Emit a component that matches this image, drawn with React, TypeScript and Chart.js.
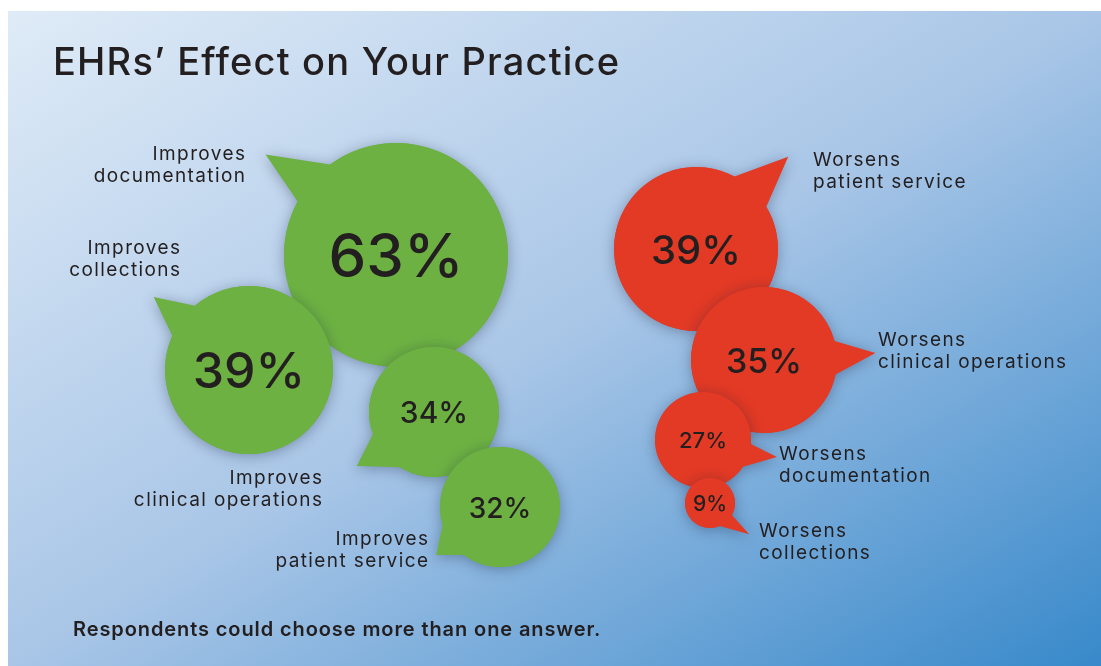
import React, { useEffect, useRef } from "react";
import { Chart, registerables } from "chart.js";

Chart.register(...registerables);

// ---------- data ----------
const TITLE = "EHRs’ Effect on Your Practice";
const FOOTNOTE = "Respondents could choose more than one answer.";

const improveLabels = [
  "Improves\ndocumentation",
  "Improves\ncollections",
  "Improves\nclinical operations",
  "Improves\npatient service",
];
const improveValues = [63, 39, 34, 32];

const worsenLabels = [
  "Worsens\npatient service",
  "Worsens\nclinical operations",
  "Worsens\ndocumentation",
  "Worsens\ncollections",
];
const worsenValues = [39, 35, 27, 9];

// ---------- layout (bubble centres in chart units, radii in px) ----------
const improveX = [396, 249, 434, 500];
const improveY = [255, 370, 412, 507];
const improveRadius = [112, 84, 65, 60];
const improveFont = [60, 50, 30, 28];

const worsenX = [696, 764, 703, 710];
const worsenY = [249, 360, 440, 503];
const worsenRadius = [82, 73, 48, 25];
const worsenFont = [40, 34, 22, 21];

// tail: tip angle (deg), tip distance (x radius), base angles a1 < a2 (deg)
const improveTails = [
  [217.6, 1.47, 208.6, 234],
  [217.5, 1.43, 204, 230],
  [145, 1.45, 121.7, 160],
  [143, 1.33, 127, 163],
];
const worsenTails = [
  [315, 1.59, 298, 329],
  [-3.6, 1.53, -15, 11.5],
  [13, 1.58, 4.7, 33.7],
  [38.5, 2.0, 29, 67],
];

// label anchors (first line centre) and alignment
const improveLabelX = [245, 180, 322, 428];
const improveLabelY = [154, 248, 478, 539];
const worsenLabelX = [813, 878, 779, 759];
const worsenLabelY = [160, 340, 454, 531];

const GREEN = "#6db143";
const RED = "#e23a25";
const TEXT = "#231f20";
const FONT = "Inter, 'Open Sans', sans-serif";
const LABEL_SPACING = 1.4;

const W = 1101;
const H = 666;

function buildDatasets() {
  const out: any[] = [];
  const groups = [
    { values: improveValues, labels: improveLabels, xs: improveX, ys: improveY, rs: improveRadius, fonts: improveFont, tails: improveTails, lx: improveLabelX, ly: improveLabelY, color: GREEN, align: "right" },
    { values: worsenValues, labels: worsenLabels, xs: worsenX, ys: worsenY, rs: worsenRadius, fonts: worsenFont, tails: worsenTails, lx: worsenLabelX, ly: worsenLabelY, color: RED, align: "left" },
  ];
  groups.forEach((g) => {
    g.values.forEach((v, i) => {
      out.push({
        label: g.labels[i].replace("\n", " "),
        data: [{ x: g.xs[i], y: g.ys[i], r: g.rs[i] }],
        backgroundColor: g.color,
        hoverBackgroundColor: g.color,
        borderWidth: 0,
        hoverBorderWidth: 0,
        value: v,
        valueFont: g.fonts[i],
        tail: g.tails[i],
        textLines: g.labels[i].split("\n"),
        textX: g.lx[i],
        textY: g.ly[i],
        textAlign: g.align,
      });
    });
  });
  const n = out.length;
  out.forEach((d, i) => (d.order = n - i));
  return out;
}

const rad = (d: number) => (d * Math.PI) / 180;

const speechPlugin = {
  id: "speech",
  beforeDraw(chart: any) {
    const ctx = chart.ctx;
    ctx.save();
    ctx.fillStyle = "#ffffff";
    ctx.fillRect(0, 0, W, H);
    const x0 = 8, y0 = 11;
    const g = ctx.createLinearGradient(x0, y0, 586, 975);
    g.addColorStop(0, "#dfebf7");
    g.addColorStop(0.5, "#a9c6e7");
    g.addColorStop(1, "#3889ca");
    ctx.fillStyle = g;
    ctx.fillRect(x0, y0, W - x0, H - y0);
    // title
    ctx.fillStyle = TEXT;
    ctx.font = `500 38px ${FONT}`;
    ctx.letterSpacing = "1.2px";
    ctx.textAlign = "left";
    ctx.textBaseline = "alphabetic";
    ctx.fillText(TITLE, 53, 75);
    // footnote
    ctx.font = `600 20px ${FONT}`;
    ctx.letterSpacing = "0.9px";
    ctx.fillText(FOOTNOTE, 73, 636);
    ctx.restore();
  },
  beforeDatasetDraw(chart: any, args: any) {
    const ds = chart.data.datasets[args.index];
    const el = args.meta.data[0];
    if (!el) return;
    const { x, y } = el;
    const r = el.options.radius;
    const [tipA, tipD, a1, a2] = ds.tail;
    const ctx = chart.ctx;
    ctx.save();
    ctx.shadowColor = "rgba(20,30,60,0.35)";
    ctx.shadowBlur = 14;
    ctx.shadowOffsetX = 0;
    ctx.shadowOffsetY = 2;
    ctx.fillStyle = ds.backgroundColor;
    ctx.beginPath();
    ctx.arc(x, y, r, rad(a2), rad(a1) + Math.PI * 2, false);
    ctx.lineTo(x + Math.cos(rad(tipA)) * r * tipD, y + Math.sin(rad(tipA)) * r * tipD);
    ctx.closePath();
    ctx.fill();
    ctx.restore();
  },
  afterDatasetDraw(chart: any, args: any) {
    const ds = chart.data.datasets[args.index];
    const el = args.meta.data[0];
    if (!el) return;
    const ctx = chart.ctx;
    ctx.save();
    ctx.fillStyle = TEXT;
    ctx.font = `500 ${ds.valueFont}px ${FONT}`;
    ctx.textAlign = "center";
    ctx.textBaseline = "alphabetic";
    const m = ctx.measureText("0");
    const cap = m.actualBoundingBoxAscent;
    ctx.fillText(`${ds.value}%`, el.x, el.y + cap / 2);
    ctx.restore();
  },
  afterDatasetsDraw(chart: any) {
    const ctx = chart.ctx;
    const xs = chart.scales.x;
    const ys = chart.scales.y;
    ctx.save();
    ctx.fillStyle = TEXT;
    ctx.font = `400 19px ${FONT}`;
    ctx.letterSpacing = `${LABEL_SPACING}px`;
    ctx.textBaseline = "middle";
    chart.data.datasets.forEach((ds: any) => {
      ctx.textAlign = ds.textAlign;
      const px = xs.getPixelForValue(ds.textX) + (ds.textAlign === "right" ? LABEL_SPACING : 0);
      ds.textLines.forEach((line: string, j: number) => {
        const py = ys.getPixelForValue(ds.textY + j * 22.5);
        ctx.fillText(line, px, py);
      });
    });
    ctx.restore();
  },
};

export default function App() {
  const ref = useRef<HTMLCanvasElement | null>(null);
  useEffect(() => {
    if (!ref.current) return;
    const chart = new Chart(ref.current, {
      type: "bubble",
      data: { datasets: buildDatasets() },
      options: {
        responsive: false,
        animation: false,
        events: [],
        layout: { padding: 0, autoPadding: false },
        scales: {
          x: { type: "linear", min: 0, max: W, display: false },
          y: { type: "linear", min: 0, max: H, reverse: true, display: false },
        },
        plugins: { legend: { display: false }, tooltip: { enabled: false } },
      },
      plugins: [speechPlugin],
    } as any);
    return () => chart.destroy();
  }, []);
  return (
    <div style={{ position: "fixed", left: 0, top: 0, width: W, height: H }}>
      <canvas ref={ref} width={W} height={H} style={{ display: "block" }} />
    </div>
  );
}
